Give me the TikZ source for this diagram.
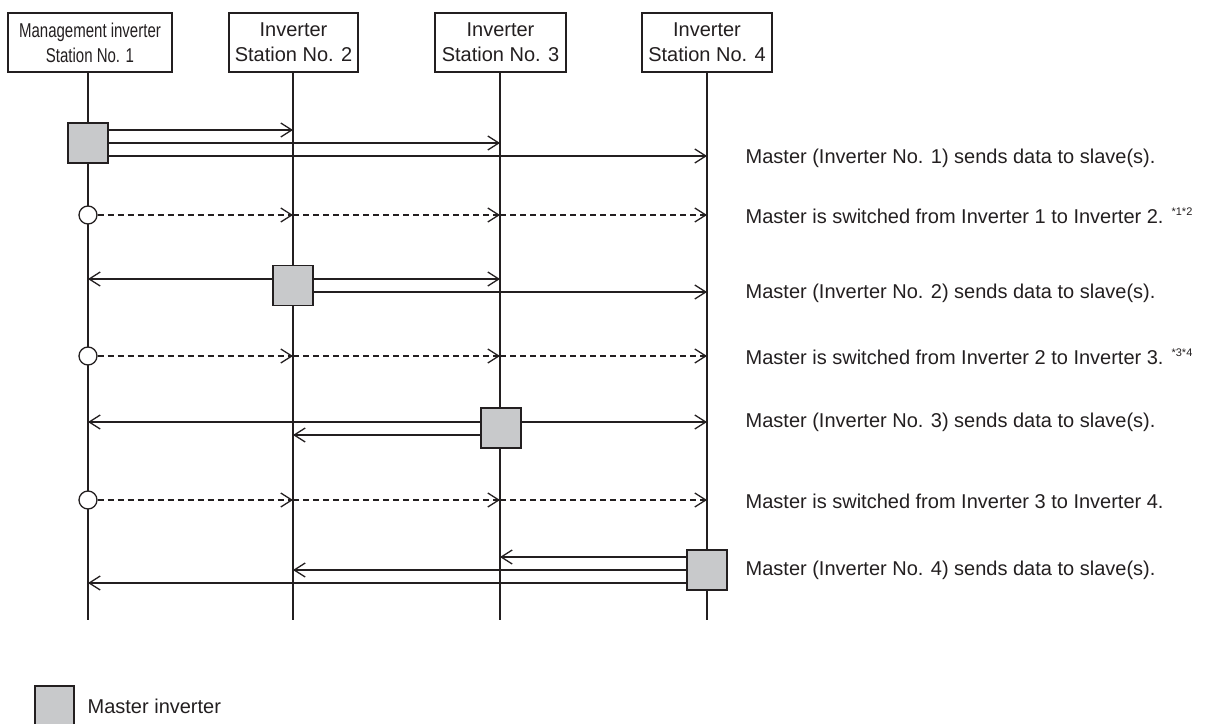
\documentclass[tikz,border=0pt]{standalone}
\usepackage{fontspec}
\setmainfont{Liberation Sans}
\usetikzlibrary{arrows.meta}
\definecolor{ink}{HTML}{231F20}
\definecolor{mgray}{HTML}{C8C9CB}
\begin{document}
\begin{tikzpicture}[x=1pt,y=-1pt,line width=1.3pt,
  hdr/.style={draw=ink,fill=white,minimum height=59pt,align=center,inner sep=0pt,text=ink,
    font=\fontsize{20}{25}\selectfont},
  mbox/.style={draw=ink,fill=mgray,minimum size=40pt,inner sep=0pt},
  sw/.style={circle,draw=ink,fill=white,minimum size=18pt,inner sep=0pt},
  arr/.style={draw=ink,-{Straight Barb[length=11pt,width=14pt,line width=1.3pt]}},
  darr/.style={arr,dash pattern=on 6pt off 4pt},
  lbl/.style={anchor=west,inner sep=0pt,text=ink,font=\fontsize{20}{24}\selectfont}]
\useasboundingbox (0,0) rectangle (1212,723);
% headers
\node[hdr,minimum width=164pt] (h1) at (90,42.5) {\scalebox{0.75}[1]{Management inverter}\\\scalebox{0.75}[1]{Station No. 1}};
\node[hdr,minimum width=129pt] (h2) at (293.5,42.5) {Inverter\\Station No. 2};
\node[hdr,minimum width=131pt] (h3) at (500.5,42.5) {Inverter\\Station No. 3};
\node[hdr,minimum width=130pt] (h4) at (707,42.5) {Inverter\\Station No. 4};
% lifeline bottoms
\coordinate (b1) at (88,620);
\coordinate (b2) at (293,620);
\coordinate (b3) at (500,620);
\coordinate (b4) at (707,620);
\draw[ink] (b1 |- h1.south) -- (b1);
\draw[ink] (b2 |- h2.south) -- (b2);
\draw[ink] (b3 |- h3.south) -- (b3);
\draw[ink] (b4 |- h4.south) -- (b4);
% master boxes
\node[mbox] (m1) at (88,143) {};
\node[mbox] (m2) at (293,285.5) {};
\node[mbox] (m3) at (501,428) {};
\node[mbox] (m4) at (707,570) {};
% switch circles
\node[sw] (c1) at (88,215) {};
\node[sw] (c2) at (88,356) {};
\node[sw] (c3) at (88,500) {};
% row coordinates
\coordinate (r1a) at (0,130);
\coordinate (r1c) at (0,156);
\coordinate (r3a) at (0,279);
\coordinate (r3b) at (0,292);
\coordinate (r5a) at (0,422);
\coordinate (r5b) at (0,435);
\coordinate (r7a) at (0,557);
\coordinate (r7c) at (0,583);
% row 1
\draw[arr] (m1.east |- r1a) -- (b2 |- r1a);
\draw[arr] (m1.east) -- (b3 |- m1.east);
\draw[arr] (m1.east |- r1c) -- (b4 |- r1c);
% row 2
\draw[darr] (c1.east) -- (b2 |- c1);
\draw[darr] (b2 |- c1) -- (b3 |- c1);
\draw[darr] (b3 |- c1) -- (b4 |- c1);
% row 3
\draw[arr] (m2.west |- r3a) -- (b1 |- r3a);
\draw[arr] (m2.east |- r3a) -- (b3 |- r3a);
\draw[arr] (m2.east |- r3b) -- (b4 |- r3b);
% row 4
\draw[darr] (c2.east) -- (b2 |- c2);
\draw[darr] (b2 |- c2) -- (b3 |- c2);
\draw[darr] (b3 |- c2) -- (b4 |- c2);
% row 5
\draw[arr] (m3.west |- r5a) -- (b1 |- r5a);
\draw[arr] (m3.west |- r5b) -- (b2 |- r5b);
\draw[arr] (m3.east |- r5a) -- (b4 |- r5a);
% row 6
\draw[darr] (c3.east) -- (b2 |- c3);
\draw[darr] (b2 |- c3) -- (b3 |- c3);
\draw[darr] (b3 |- c3) -- (b4 |- c3);
% row 7
\draw[arr] (m4.west |- r7a) -- (b3 |- r7a);
\draw[arr] (m4.west) -- (b2 |- m4.west);
\draw[arr] (m4.west |- r7c) -- (b1 |- r7c);
% labels
\node[lbl] (t1) at (745,158) {Master (Inverter No. 1) sends data to slave(s).};
\node[lbl] (t2) at (745,216) {Master is switched from Inverter 1 to Inverter 2.\hspace{8pt}\raisebox{0.8ex}{\fontsize{11}{11}\selectfont *1*2}};
\node[lbl] (t3) at (745,293) {Master (Inverter No. 2) sends data to slave(s).};
\node[lbl] (t4) at (745,357) {Master is switched from Inverter 2 to Inverter 3.\hspace{8pt}\raisebox{0.8ex}{\fontsize{11}{11}\selectfont *3*4}};
\node[lbl] (t5) at (745,422) {Master (Inverter No. 3) sends data to slave(s).};
\node[lbl] (t6) at (745,501) {Master is switched from Inverter 3 to Inverter 4.};
\node[lbl] (t7) at (745,570) {Master (Inverter No. 4) sends data to slave(s).};
% legend
\node[mbox,minimum size=39pt] (lg) at (54.5,705.5) {};
\node[lbl] (lgt) at (87,706) {Master inverter};
\end{tikzpicture}
\end{document}
